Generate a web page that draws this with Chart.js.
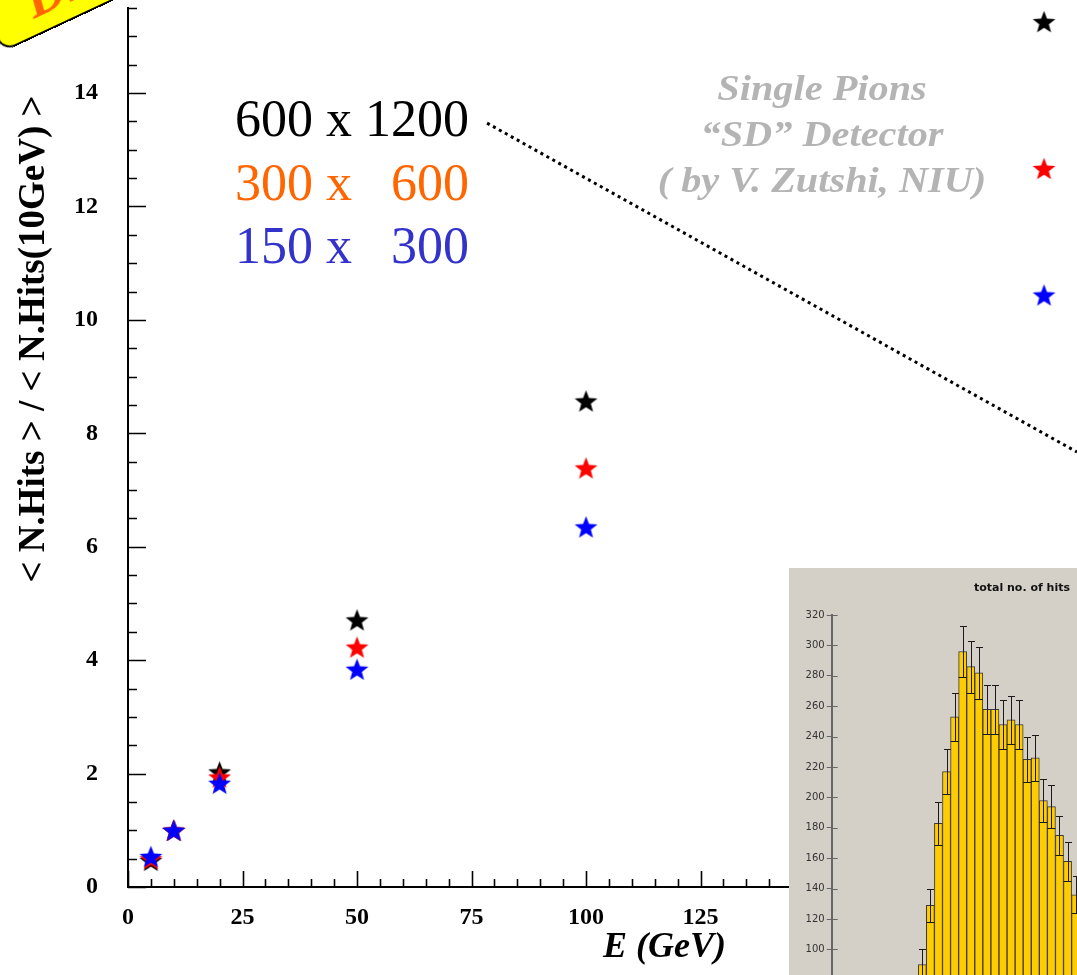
<!DOCTYPE html>
<html><head><meta charset="utf-8">
<script src="https://cdn.jsdelivr.net/npm/chart.js@4.4.1/dist/chart.umd.min.js"></script>
<style>
html,body{margin:0;padding:0;background:#fff;overflow:hidden;width:1077px;height:975px;}
#wrap{position:relative;width:1077px;height:975px;overflow:hidden;background:#fff;}
#main{position:absolute;left:0;top:0;}
#inset{position:absolute;left:789px;top:568px;background:#d4d0c8;}
#tag{position:absolute;left:3px;top:-148px;width:330px;height:200px;background:#ffff00;border:2px solid #000;border-radius:14px;transform-origin:0 100%;transform:rotate(-25deg);box-sizing:border-box;}
#tag span{position:absolute;left:40px;bottom:2px;font:italic bold 56px "Liberation Serif","Times New Roman",serif;color:#ff6600;white-space:nowrap;}
</style></head><body>
<div id="wrap">
<canvas id="main" width="1077" height="975"></canvas>
<div id="tag"><span>DHCAL</span></div>
<canvas id="inset" width="288" height="407"></canvas>
</div>
<script>
// ---- data ----
const energies = [5, 10, 20, 50, 100, 200];
const hits600x1200 = [0.47, 1.0, 2.03, 4.71, 8.57, 15.26];
const hits300x600  = [0.50, 1.0, 1.94, 4.23, 7.39, 12.67];
const hits150x300  = [0.54, 1.0, 1.83, 3.84, 6.35, 10.44];
const seriesNames = ['600 x 1200', '300 x   600', '150 x   300'];
const xTickLabels = [0, 25, 50, 75, 100, 125, 150, 175, 200];
const yTickLabels = [0, 2, 4, 6, 8, 10, 12, 14];
const guideLine = [{x: 78.4, y: 13.47}, {x: 207.2, y: 7.67}];
const noteLines = ['Single Pions', '\u201CSD\u201D Detector', '( by V. Zutshi, NIU)'];

const histBins   = [0.5,1.5,2.5,3.5,4.5,5.5,6.5,7.5,8.5,9.5,10.5,11.5,12.5,13.5,14.5,15.5,16.5,17.5,18.5,19.5];
const histCounts = [90,129,183,217,253,296,286,282,258,258,248,251,248,225,226,198,194,175,158,136];
const histErrors = [10,11,14,15,16,17,17,17,16,16,16,16,16,15,15,14,14,13,13,12];
const histTicks  = [100,120,140,160,180,200,220,240,260,280,300,320];

const SERIF = '"Liberation Serif","Times New Roman",serif';

function makeStar(color, size){
  const c = document.createElement('canvas');
  c.width = size; c.height = size;
  const g = c.getContext('2d');
  const R = size/2 - 0.5, r = R*0.42;
  const cx = size/2, cy = size/2 + R*0.095;
  g.beginPath();
  for (let i=0;i<10;i++){
    const a = -Math.PI/2 + i*Math.PI/5;
    const rad = (i%2) ? r : R;
    g.lineTo(cx + rad*Math.cos(a), cy + rad*Math.sin(a));
  }
  g.closePath();
  g.fillStyle = color; g.fill();
  return c;
}

const toPts = arr => energies.map((e,i)=>({x:e, y:arr[i]}));

const mainDecor = {
  id:'mainDecor',
  beforeDatasetsDraw(chart){
    const ctx = chart.ctx, xs = chart.scales.x, ys = chart.scales.y;
    const a = chart.chartArea;
    ctx.save();
    ctx.strokeStyle = '#000'; ctx.lineWidth = 1.6;
    ctx.beginPath();
    for (let v=0; v<=15.5001; v+=0.5){
      const p = Math.round(ys.getPixelForValue(v))+0.5;
      const len = (Math.abs(v/2 - Math.round(v/2))<1e-6) ? 18 : 9;
      ctx.moveTo(a.left, p); ctx.lineTo(a.left+len, p);
    }
    for (let v=0; v<=207; v+=5){
      const p = Math.round(xs.getPixelForValue(v))+0.5;
      const len = (v%25===0) ? 16 : 8;
      ctx.moveTo(p, a.bottom); ctx.lineTo(p, a.bottom-len);
    }
    ctx.stroke();
    ctx.restore();
  },
  afterDraw(chart){
    const ctx = chart.ctx;
    ctx.save();
    ctx.textBaseline = 'alphabetic';
    // series labels
    ctx.textAlign = 'left';
    ctx.font = '52px ' + SERIF;
    const cols = ['#000000', '#ff6600', '#3333cc'];
    const bases = [136, 200, 263];
    seriesNames.forEach((t,i)=>{ ctx.fillStyle = cols[i]; ctx.fillText(t, 235, bases[i]); });
    // note (wide bold italic)
    ctx.save();
    ctx.textAlign = 'center';
    ctx.fillStyle = '#b4b4b4';
    ctx.font = 'italic bold 36px ' + SERIF;
    ctx.translate(822, 0);
    ctx.scale(1.12, 1);
    const nb = [100, 146, 192];
    noteLines.forEach((t,i)=> ctx.fillText(t, 0, nb[i]));
    ctx.restore();
    // x title
    ctx.fillStyle = '#000';
    ctx.textAlign = 'left';
    ctx.font = 'italic bold 36px ' + SERIF;
    ctx.fillText('E (GeV)', 603, 957);
    // y title
    ctx.translate(44, 339);
    ctx.rotate(-Math.PI/2);
    ctx.textAlign = 'center';
    ctx.font = 'bold 37px ' + SERIF;
    ctx.fillText('< N.Hits > / < N.Hits(10GeV) >', 0, 0);
    ctx.restore();
  }
};

new Chart(document.getElementById('main'), {
  type: 'scatter',
  data: {
    datasets: [
      {label: seriesNames[0], data: toPts(hits600x1200), pointStyle: makeStar('#000000', 25), pointRadius: 12, order: 3},
      {label: seriesNames[1], data: toPts(hits300x600),  pointStyle: makeStar('#ff0000', 25), pointRadius: 12, order: 2},
      {label: seriesNames[2], data: toPts(hits150x300),  pointStyle: makeStar('#0000ff', 25), pointRadius: 12, order: 1},
      {type: 'line', label: 'guide', data: guideLine, borderColor: '#000', borderWidth: 3, borderDash: [3, 3.8], pointRadius: 0, fill: false, order: 4, clip: false}
    ]
  },
  options: {
    responsive: false, animation: false,
    layout: {autoPadding: false, padding: {top: 8, left: 0, right: 0, bottom: 0}},
    plugins: {legend: {display: false}, tooltip: {enabled: false}},
    scales: {
      x: {
        type: 'linear', min: 0, max: 207.2,
        afterBuildTicks(s){ s.ticks = xTickLabels.map(v=>({value:v})); },
        afterFit(s){ s.height = 88; s.paddingLeft = 0; s.paddingRight = 0; },
        grid: {display: false, drawTicks: false},
        border: {display: true, color: '#000', width: 2},
        ticks: {font: {family: SERIF, size: 24, weight: 'bold'}, color: '#000', padding: 16, maxRotation: 0, autoSkip: false}
      },
      y: {
        type: 'linear', min: 0, max: 15.5,
        afterBuildTicks(s){ s.ticks = yTickLabels.map(v=>({value:v})); },
        afterFit(s){ s.width = 128; s.paddingTop = 0; s.paddingBottom = 0; },
        grid: {display: false, drawTicks: false},
        border: {display: true, color: '#000', width: 2},
        ticks: {font: {family: SERIF, size: 24, weight: 'bold'}, color: '#000', padding: 30, autoSkip: false}
      }
    }
  },
  plugins: [mainDecor]
});

const insetDecor = {
  id: 'insetDecor',
  afterDatasetsDraw(chart){
    const ctx = chart.ctx, xs = chart.scales.x, ys = chart.scales.y, a = chart.chartArea;
    ctx.save();
    ctx.beginPath(); ctx.rect(a.left, 0, a.right - a.left, chart.height); ctx.clip();
    ctx.strokeStyle = '#1a1a1a'; ctx.lineWidth = 1;
    ctx.beginPath();
    histCounts.forEach((c,i)=>{
      const px = Math.round(xs.getPixelForValue(histBins[i])) + 0.5;
      const l = xs.getPixelForValue(histBins[i]-0.5), r = xs.getPixelForValue(histBins[i]+0.5);
      const yu = Math.round(ys.getPixelForValue(c + histErrors[i])) + 0.5;
      const yl = Math.round(ys.getPixelForValue(c - histErrors[i])) + 0.5;
      ctx.moveTo(px, yu); ctx.lineTo(px, yl);
      ctx.moveTo(px-3.5, yu); ctx.lineTo(px+3.5, yu);
      ctx.moveTo(l, yl); ctx.lineTo(r, yl);
    });
    ctx.stroke();
    ctx.restore();
    // inner tick halves
    ctx.save();
    ctx.strokeStyle = '#666'; ctx.lineWidth = 1;
    ctx.beginPath();
    histTicks.forEach(v=>{
      const p = Math.round(ys.getPixelForValue(v)) + 0.5;
      ctx.moveTo(a.left, p); ctx.lineTo(a.left + 6, p);
    });
    ctx.stroke();
    ctx.restore();
  },
  afterDraw(chart){
    const ctx = chart.ctx;
    ctx.save();
    ctx.fillStyle = '#111';
    ctx.font = 'bold 11px "DejaVu Sans", sans-serif';
    ctx.textAlign = 'right'; ctx.textBaseline = 'middle';
    ctx.fillText('total no. of hits', 281, 20);
    ctx.restore();
  }
};

new Chart(document.getElementById('inset'), {
  type: 'bar',
  data: {
    datasets: [{
      label: 'total no. of hits',
      data: histBins.map((b,i)=>({x: b, y: histCounts[i]})),
      backgroundColor: '#ffcc00', borderColor: '#3a3a3a', borderWidth: 1,
      barPercentage: 1, categoryPercentage: 1
    }]
  },
  options: {
    responsive: false, animation: false,
    layout: {autoPadding: false, padding: {top: 47, left: 0, right: 0, bottom: 0}},
    plugins: {legend: {display: false}, tooltip: {enabled: false}},
    scales: {
      x: {type: 'linear', display: false, min: -10.73, max: 19.67, offset: false},
      y: {
        min: 83.2, max: 320,
        afterBuildTicks(s){ s.ticks = histTicks.map(v=>({value:v})); },
        afterFit(s){ s.width = 42.7; s.paddingTop = 0; s.paddingBottom = 0; },
        grid: {drawOnChartArea: false, drawTicks: true, tickLength: 5, color: '#666', lineWidth: 1},
        border: {display: true, color: '#666', width: 2},
        ticks: {font: {family: '"DejaVu Sans", sans-serif', size: 10}, color: '#333', padding: 2, autoSkip: false}
      }
    }
  },
  plugins: [insetDecor]
});
</script>
</body></html>
